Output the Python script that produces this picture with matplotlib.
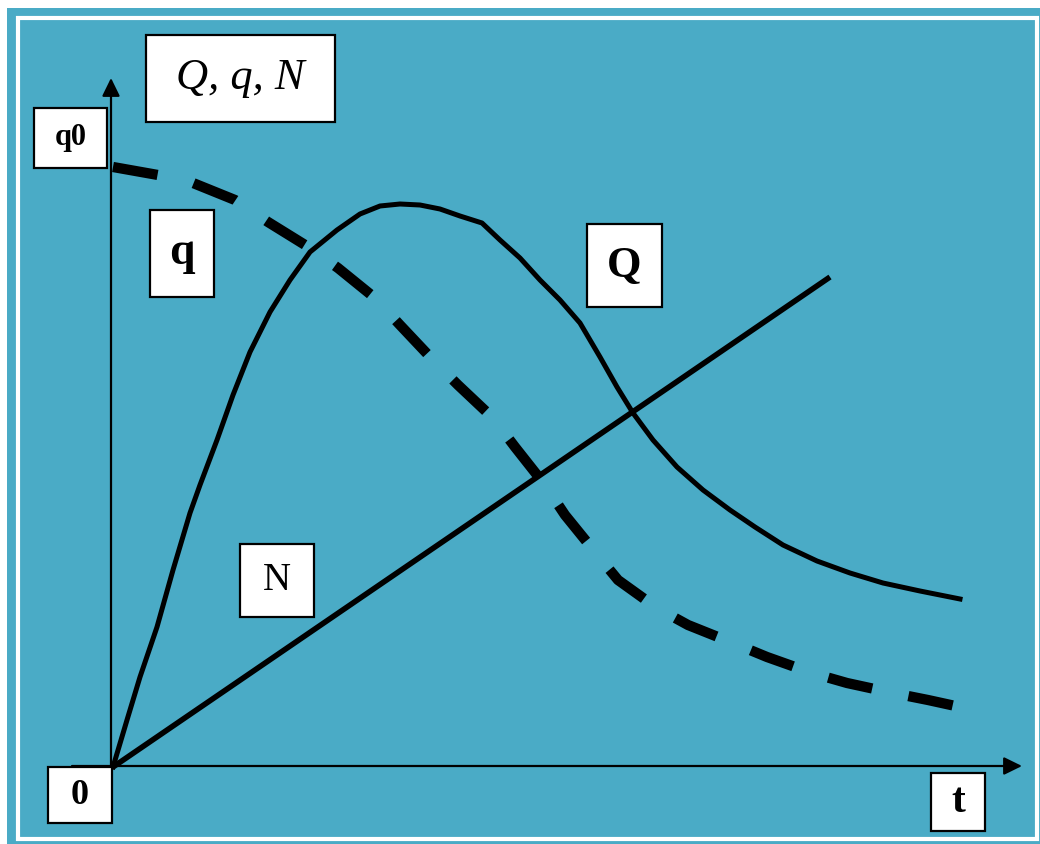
import matplotlib.pyplot as plt
from matplotlib.patches import Rectangle

# values; t along the time axis, value up from the origin
q_t = [0, 45, 80, 122, 155, 197, 225, 262, 287, 320, 345, 380, 402, 432, 452,
       482, 505, 544, 575, 620, 654, 699, 734, 780, 815, 847]
q_v = [600, 592, 584, 567, 545, 519, 499, 469, 442, 407, 382, 349, 320, 282, 252,
       215, 187, 159, 142, 124, 110, 94, 84, 74, 67, 60]

Q_t = [0, 14, 27, 44, 60, 77, 87, 104, 120, 137, 157, 177, 197, 224, 247, 267,
       287, 307, 327, 347, 369, 387, 407, 427, 447, 467, 487, 504, 520, 540, 564,
       590, 617, 642, 670, 704, 737, 770, 807, 847]
Q_v = [0, 47, 90, 140, 197, 254, 282, 327, 372, 415, 455, 487, 515, 537, 553, 561,
       563, 562, 558, 551, 544, 527, 509, 487, 467, 444, 410, 380, 354, 327, 300,
       277, 257, 240, 222, 206, 194, 184, 176, 168]

N_t = [0, 717]
N_v = [0, 490]

teal = "#4aabc6"
serif = "Liberation Serif"

fig = plt.figure(figsize=(10.4, 8.44), dpi=100)
fig.patch.set_facecolor("white")

# frame layer in pixel units
fr = fig.add_axes([0, 0, 1, 1], zorder=0)
fr.set_xlim(0, 1040)
fr.set_ylim(844, 0)
fr.axis("off")
fr.add_patch(Rectangle((7, 8), 1040, 844, facecolor=teal, edgecolor="none"))
fr.add_patch(Rectangle((17.5, 17.5), 1019, 821, facecolor="none",
                       edgecolor="white", linewidth=3))

# chart layer, origin of the axes at pixel (113, 767)
ax = fig.add_axes([0, 0, 1, 1], zorder=1)
ax.patch.set_alpha(0)
ax.set_xlim(-113, 927)
ax.set_ylim(-77, 767)
ax.axis("off")

# axes with arrows
arrow = dict(arrowstyle="-|>,head_length=0.55,head_width=0.27",
             mutation_scale=20, color="black", lw=1.6, shrinkA=0, shrinkB=0)
ax.annotate("", xy=(-2, 689), xytext=(-2, -13), arrowprops=arrow)
ax.annotate("", xy=(909, 1), xytext=(-41, 1), arrowprops=arrow)

ax.plot(Q_t, Q_v, color="black", lw=3.6, solid_joinstyle="round")
ax.plot(N_t, N_v, color="black", lw=4.0, solid_capstyle="butt")
ax.plot(q_t, q_v, color="black", lw=7.4, dashes=(4.4, 3.6),
        dash_capstyle="butt", dash_joinstyle="round")


def label(x0, y0, x1, y1, text, size, weight="bold", style="normal"):
    ax.add_patch(Rectangle((x0, y0), x1 - x0, y1 - y0, transform=fr.transData,
                           facecolor="white", edgecolor="black", linewidth=1.6,
                           zorder=5))
    ax.text((x0 + x1) / 2, (y0 + y1) / 2, text, transform=fr.transData,
            ha="center", va="center", fontsize=size, fontweight=weight,
            fontstyle=style, family=serif, zorder=6)


label(146, 35, 335, 122, "Q, q, N", 32, weight="normal", style="italic")
label(34, 108, 107, 168, "q0", 22)
label(150, 210, 214, 297, "q", 33)
label(587, 224, 662, 307, "Q", 32)
label(240, 544, 314, 617, "N", 28, weight="normal")
label(48, 767, 112, 823, "0", 26)
label(931, 773, 985, 831, "t", 30)

fig.savefig("out.png", dpi=100)
